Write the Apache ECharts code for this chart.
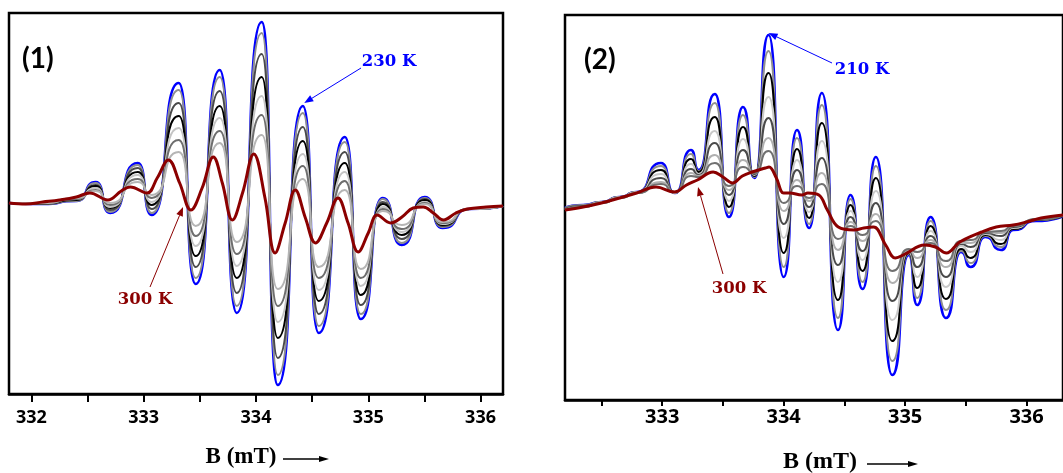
<!DOCTYPE html>
<html>
<head>
<meta charset="utf-8">
<script src="https://cdn.jsdelivr.net/npm/echarts@6.0.0/dist/echarts.min.js"></script>
<style>
  html, body { margin: 0; padding: 0; background: #fff; }
  #main { width: 1063px; height: 473px; }
</style>
</head>
<body>
<div id="main"></div>
<script>
// ---------------- Panel (1): 230 K (blue) ... 300 K (dark red) ----------------
// field positions (mT) of the extrema of the low-temperature spectra
const fieldP1 = [331.80, 332.10, 332.40, 332.573, 332.70, 332.947, 333.072, 333.312, 333.463, 333.677, 333.829, 334.051, 334.194, 334.417, 334.559, 334.791, 334.933, 335.129, 335.298, 335.503, 335.663, 335.90, 336.20];
const blueP1  = [0, -1, 2, 21, -10, 40, -12, 120, -81, 133, -110, 181, -182, 97, -130, 66, -116, 5, -42, 6, -25, -6, -3];
const grayAP1 = [0, -1, 2, 20, -9, 38, -10, 113, -75, 126, -103, 170, -172, 90, -123, 61, -111, 4, -40, 5, -24, -6, -3];
const grayBP1 = [0, -1, 3, 18, -7, 35, -6, 100, -64, 112, -90, 149, -155, 76, -111, 51, -102, 1, -36, 4, -23, -6, -3];
const grayCP1 = [0, 0, 3, 17, -5, 31, -2, 87, -53, 97, -75, 126, -135, 62, -98, 40, -92, -1, -32, 3, -22, -6, -3];
const grayDP1 = [0, 0, 4, 15, -4, 28, 1, 75, -43, 85, -63, 107, -119, 49, -87, 31, -83, -4, -29, 1, -21, -6, -3];
const grayEP1 = [0, 0, 4, 13, -2, 24, 5, 63, -33, 72, -51, 88, -103, 37, -75, 22, -75, -6, -26, 0, -20, -6, -3];
const grayFP1 = [0, 0, 5, 12, 0, 21, 8, 51, -23, 60, -39, 68, -86, 24, -64, 13, -66, -8, -22, -1, -19, -6, -3];
const redFieldP1 = [331.80, 331.95, 332.10, 332.25, 332.40, 332.52, 332.68, 332.80, 332.88, 333.03, 333.12, 333.22, 333.32, 333.42, 333.52, 333.62, 333.70, 333.79, 333.88, 333.98, 334.08, 334.17, 334.26, 334.35, 334.44, 334.53, 334.63, 334.73, 334.82, 334.91, 335.00, 335.08, 335.20, 335.30, 335.40, 335.49, 335.58, 335.67, 335.78, 335.88, 336.05, 336.20];
const redP1 = [0, -1, 1, 3, 6, 10, 3, 12, 16, 10, 25, 43, 20, -7, 15, 46, 20, -17, 10, 49, 5, -50, -20, 13, -15, -40, -20, 5, -20, -49, -30, -12, -20, -14, -5, -4, -10, -17, -10, -6, -4, -3];
const ticksP1 = [332, 332.5, 333, 333.5, 334, 334.5, 335, 335.5, 336];
const labelsP1 = [332, 333, 334, 335, 336];

// ---------------- Panel (2): 210 K (blue) ... 300 K (dark red) ----------------
const fieldP2 = [332.20, 332.35, 332.50, 332.65, 332.79, 332.99, 333.105, 333.237, 333.30, 333.434, 333.55, 333.665, 333.76, 333.876, 334.00, 334.11, 334.21, 334.315, 334.447, 334.55, 334.65, 334.76, 334.894, 335.03, 335.10, 335.21, 335.336, 335.46, 335.54, 335.66, 335.79, 335.89, 336.08, 336.30];
const blueP2  = [2, 5, 8, 13, 18, 47, 17, 60, 40, 116, -7, 103, 32, 175, -67, 80, -18, 117, -120, 15, -79, 53, -165, -45, -95, -7, -108, -42, -57, -27, -40, -20, -11, -6];
const grayAP2 = [2, 5, 8, 13, 18, 44, 17, 56, 39, 107, -3, 95, 33, 159, -57, 72, -14, 105, -108, 11, -72, 44, -151, -44, -88, -11, -100, -41, -53, -26, -37, -19, -10, -6];
const grayBP2 = [1, 4, 8, 13, 18, 40, 17, 51, 38, 93, 3, 83, 34, 137, -43, 61, -8, 87, -90, 5, -61, 32, -131, -43, -78, -16, -89, -39, -48, -25, -34, -19, -10, -6];
const grayCP2 = [1, 4, 8, 13, 18, 36, 17, 46, 36, 79, 9, 71, 35, 113, -28, 50, -2, 69, -72, -1, -50, 19, -110, -42, -67, -21, -77, -36, -42, -24, -30, -18, -10, -5];
const grayDP2 = [1, 4, 7, 12, 17, 32, 18, 41, 35, 67, 15, 60, 36, 92, -14, 40, 3, 52, -55, -7, -41, 7, -91, -41, -57, -26, -67, -34, -37, -23, -26, -17, -10, -5];
const grayEP2 = [0, 3, 7, 12, 17, 28, 18, 37, 34, 55, 20, 50, 37, 72, -1, 30, 9, 37, -40, -12, -31, -4, -73, -40, -48, -30, -57, -33, -33, -22, -23, -16, -9, -5];
const grayFP2 = [0, 3, 7, 12, 17, 26, 18, 34, 33, 47, 24, 43, 37, 59, 7, 24, 12, 26, -29, -16, -25, -11, -61, -39, -42, -33, -51, -31, -30, -22, -21, -16, -9, -5];
const redFieldP2 = [332.20, 332.35, 332.50, 332.65, 332.79, 332.95, 333.10, 333.20, 333.29, 333.42, 333.50, 333.58, 333.66, 333.74, 333.85, 333.88, 333.94, 334.00, 334.05, 334.15, 334.20, 334.29, 334.36, 334.45, 334.58, 334.66, 334.74, 334.84, 334.92, 335.00, 335.16, 335.25, 335.34, 335.45, 335.63, 335.75, 335.89, 336.00, 336.12, 336.30];
const redP2 = [0, 3, 7, 12, 17, 23, 18, 25, 30, 38, 33, 27, 34, 38, 42, 43, 32, 17, 17, 15, 17, 15, 0, -17, -20, -18, -17, -35, -48, -44, -35, -37, -43, -32, -22, -17, -15, -12, -8, -5];
const ticksP2 = [332.5, 333, 333.5, 334, 334.5, 335, 335.5, 336];
const labelsP2 = [333, 334, 335, 336];

const BLUE = '#0000ff';
const DARKRED = '#8b0000';
const grayColorsP1 = ['#8f8f8f', '#4a4a4a', '#000000', '#c4c4c4', '#6e6e6e', '#b5b5b5'];
const grayColorsP2 = ['#8f8f8f', '#000000', '#c9c9c9', '#4a4a4a', '#b0b0b0', '#707070'];

function pairs(xs, ys) { return xs.map((x, i) => [x, ys[i]]); }
function lineSeries(gi, data, color, width, z, peaky) {
  const s = {
    type: 'line', xAxisIndex: gi, yAxisIndex: gi, data: data,
    showSymbol: false, symbol: 'none', silent: true, z: z,
    lineStyle: { color: color, width: width }
  };
  if (peaky) { s.smooth = 0.7; s.smoothMonotone = 'x'; } else { s.smooth = 0.4; }
  return s;
}

const series = [];
series.push(lineSeries(0, pairs(fieldP1, blueP1), BLUE, 2.6, 2, true));
[grayAP1, grayBP1, grayCP1, grayDP1, grayEP1, grayFP1].forEach((g, i) => {
  series.push(lineSeries(0, pairs(fieldP1, g), grayColorsP1[i], 2, 3, true));
});
series.push(lineSeries(0, pairs(redFieldP1, redP1), DARKRED, 3, 4, false));

series.push(lineSeries(1, pairs(fieldP2, blueP2), BLUE, 2.6, 2, true));
[grayAP2, grayBP2, grayCP2, grayDP2, grayEP2, grayFP2].forEach((g, i) => {
  series.push(lineSeries(1, pairs(fieldP2, g), grayColorsP2[i], 2, 3, true));
});
series.push(lineSeries(1, pairs(redFieldP2, redP2), DARKRED, 3, 4, false));

function xAxisCfg(gi, min, max, ticks, labels, fontSize, margin, tickLen) {
  return {
    gridIndex: gi, type: 'value', min: min, max: max,
    splitLine: { show: false },
    axisLine: { show: true, onZero: false, lineStyle: { color: '#000', width: 2.5 } },
    axisTick: { show: true, inside: false, length: tickLen, customValues: ticks, lineStyle: { color: '#000', width: 2 } },
    axisLabel: { customValues: labels, margin: margin, color: '#000', fontFamily: 'Open Sans', fontWeight: 'bold', fontSize: fontSize }
  };
}

const option = {
  animation: false,
  backgroundColor: '#ffffff',
  grid: [
    { left: 9, top: 13, width: 494, height: 381, show: true, borderColor: '#000', borderWidth: 2.5, containLabel: false },
    { left: 565, top: 15, width: 520, height: 385, show: true, borderColor: '#000', borderWidth: 2.5, containLabel: false }
  ],
  xAxis: [
    xAxisCfg(0, 331.8, 336.2, ticksP1, labelsP1, 18, 15, 8),
    xAxisCfg(1, 332.2, 336.3, ticksP2, labelsP2, 20, 7, 6)
  ],
  yAxis: [
    { gridIndex: 0, type: 'value', min: -191, max: 190, show: false, splitLine: { show: false } },
    { gridIndex: 1, type: 'value', min: -190, max: 195, show: false, splitLine: { show: false } }
  ],
  series: series
};

const chart = echarts.init(document.getElementById('main'));
chart.setOption(option);

function arrowEls(x0, y0, x1, y1, color, w, L, W) {
  const ang = Math.atan2(y1 - y0, x1 - x0);
  const bx = x1 - L * Math.cos(ang), by = y1 - L * Math.sin(ang);
  const nx = -Math.sin(ang), ny = Math.cos(ang);
  return [
    { type: 'line', silent: true, z: 10, shape: { x1: x0, y1: y0, x2: bx, y2: by }, style: { stroke: color, lineWidth: w } },
    { type: 'polygon', silent: true, z: 10, shape: { points: [[x1, y1], [bx + nx * W, by + ny * W], [bx - nx * W, by - ny * W]] }, style: { fill: color } }
  ];
}
function textEl(txt, x, y, color, font, align) {
  return { type: 'text', silent: true, z: 10, x: x, y: y,
    style: { text: txt, fill: color, font: font, align: align || 'center', verticalAlign: 'middle' } };
}

const p230 = chart.convertToPixel({ gridIndex: 0 }, [334.43, 100]);
const p300a = chart.convertToPixel({ gridIndex: 0 }, [333.35, -4]);
const p210 = chart.convertToPixel({ gridIndex: 1 }, [333.876, 177]);
const p300b = chart.convertToPixel({ gridIndex: 1 }, [333.295, 23]);

const serifB = 'bold 16.5px "DejaVu Serif"';
let graphics = [];
graphics.push(textEl('(1)', 22, 59, '#000', 'bold 28px Lato', 'left'));
graphics.push(textEl('(2)', 584, 60, '#000', 'bold 28px Lato', 'left'));
graphics.push(textEl('230 K', 389, 62, BLUE, serifB));
graphics = graphics.concat(arrowEls(361, 68, p230[0], p230[1], BLUE, 1, 9, 3.5));
graphics.push(textEl('300 K', 145, 300, DARKRED, serifB));
graphics = graphics.concat(arrowEls(150, 287, p300a[0], p300a[1], DARKRED, 1, 9, 3.5));
graphics.push(textEl('210 K', 862, 70, BLUE, serifB));
graphics = graphics.concat(arrowEls(832, 63, p210[0], p210[1], BLUE, 1, 9, 3.5));
graphics.push(textEl('300 K', 739, 289, DARKRED, serifB));
graphics = graphics.concat(arrowEls(723, 274, p300b[0], p300b[1], DARKRED, 1, 9, 3.5));
graphics.push(textEl('B (mT)', 241, 457, '#000', 'bold 23px "Liberation Serif"'));
graphics = graphics.concat(arrowEls(283, 459, 329, 459, '#000', 1.5, 10, 3));
graphics.push(textEl('B (mT)', 820, 462, '#000', 'bold 24px "Liberation Serif"'));
graphics = graphics.concat(arrowEls(867, 464, 918, 464, '#000', 1.5, 10, 3));

chart.setOption({ graphic: graphics });
</script>
</body>
</html>
